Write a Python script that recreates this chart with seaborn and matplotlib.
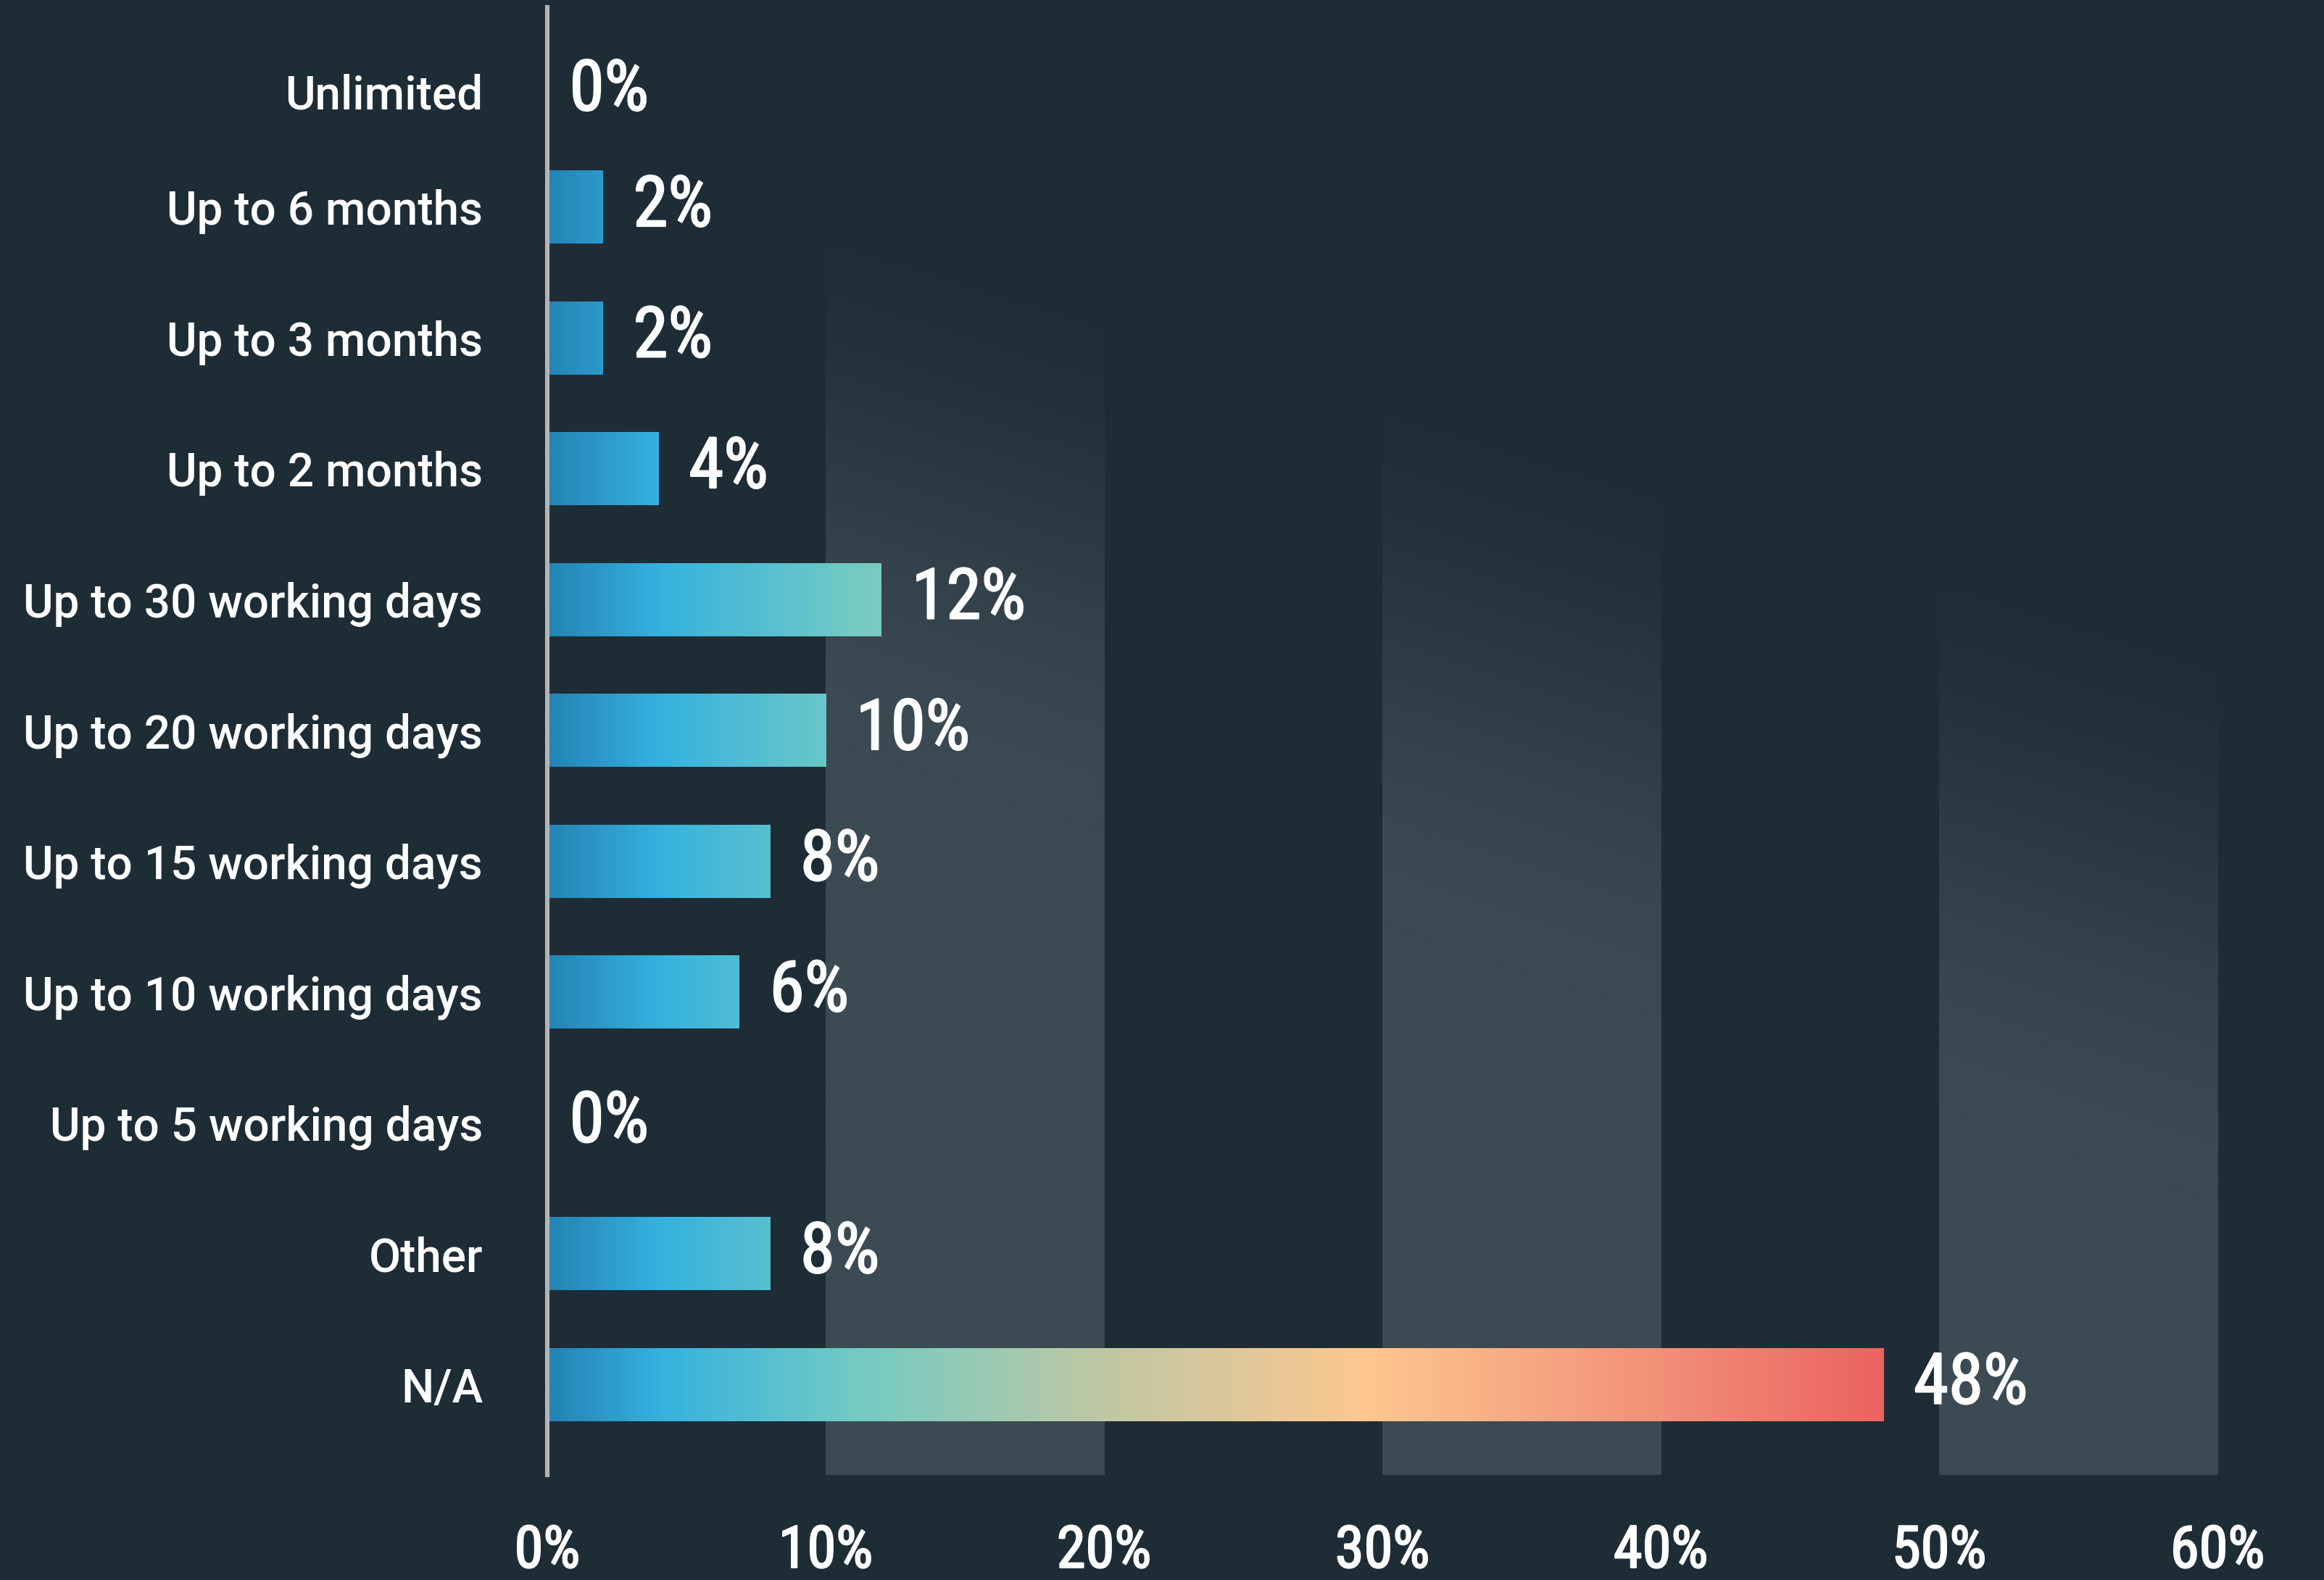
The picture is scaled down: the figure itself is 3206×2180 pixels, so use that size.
import numpy as np
import pandas as pd
import matplotlib
matplotlib.use('Agg')
import matplotlib.pyplot as plt
import matplotlib.patheffects as pe
from matplotlib import font_manager
from matplotlib.colors import LinearSegmentedColormap, Normalize, to_rgba
from matplotlib.transforms import ScaledTranslation
import seaborn as sns

# data, top to bottom
categories = ['Unlimited', 'Up to 6 months', 'Up to 3 months', 'Up to 2 months',
              'Up to 30 working days', 'Up to 20 working days', 'Up to 15 working days',
              'Up to 10 working days', 'Up to 5 working days', 'Other', 'N/A']
values = [0, 2, 2, 4, 12, 10, 8, 6.9, 0, 8, 48]
value_labels = ['0%', '2%', '2%', '4%', '12%', '10%', '8%', '6%', '0%', '8%', '48%']
x_ticks = [0, 10, 20, 30, 40, 50, 60]
x_tick_labels = ['0%', '10%', '20%', '30%', '40%', '50%', '60%']
band_starts = [10, 30, 50]

BG = '#1e2c36'
BAND = '#3c4a53'

sns.set_theme(style='dark')
names = {f.name for f in font_manager.fontManager.ttflist}


def pick(cands):
    for c in cands:
        if c in names:
            return c
    return 'DejaVu Sans'


cond = pick(['Roboto Condensed', 'Liberation Sans Narrow', 'Roboto'])
wide = pick(['Roboto', 'Lato', 'DejaVu Sans'])
plt.rcParams['font.family'] = [cond, 'DejaVu Sans']

# regular weight thickened a little -> close to a medium/semibold
semi = [pe.withStroke(linewidth=0.8, foreground='white')]

df = pd.DataFrame({'category': categories, 'value': values})

fig = plt.figure(figsize=(16.03, 10.9), dpi=200, facecolor=BG)
ax = fig.add_axes([0.2355, 0.0665, 0.7187, 0.929])
ax.set_facecolor(BG)

sns.barplot(data=df, x='value', y='category', orient='h', width=0.555,
            color='#2a96c8', ax=ax, zorder=3)

# gradient along x in absolute percent
grad = LinearSegmentedColormap.from_list('grad', [
    (0.0, '#2484b5'), (4 / 48, '#36b2e0'), (11 / 48, '#72cbc3'),
    (20 / 48, '#c0c8a4'), (29.5 / 48, '#fdc78f'), (40 / 48, '#f29078'),
    (1.0, '#ec6460')])
norm = Normalize(0, 48)

for p in ax.patches:
    x, y, w, h = p.get_x(), p.get_y(), p.get_width(), p.get_height()
    p.set_alpha(0)
    if w <= 0:
        continue
    xs = np.linspace(x, x + w, 300)
    img = grad(norm(xs))[None, :, :]
    ax.imshow(img, extent=(x, x + w, y + h, y), aspect='auto', zorder=3,
              interpolation='bilinear')

ytop, ybot = -0.53, 10.69

# shaded columns fading diagonally towards the top right
ny, nx = 400, 60
band_rgb = to_rgba(BAND)[:3]
for x0 in band_starts:
    xs = np.linspace(x0, x0 + 10, nx)
    fs = np.linspace(0, 1, ny)
    X, F = np.meshgrid(xs, fs)
    f0 = (145 + (X - 15) * 5.75) / 990
    f1 = (525 + (X - 15) * 6.25) / 990
    a = np.clip((F - f0) / (f1 - f0), 0, 1)
    a = a * a * (3 - 2 * a)
    img = np.zeros((ny, nx, 4))
    img[..., :3] = band_rgb
    img[..., 3] = a
    ax.imshow(img, extent=(x0, x0 + 10, ybot, ytop), aspect='auto', zorder=1,
              interpolation='bilinear')

# first row sits a little lower in the original
first_shift = -7.4

for i, (v, lab) in enumerate(zip(values, value_labels)):
    off = 15 if v > 0 else 11
    dy = first_shift if i == 0 else 0
    ax.annotate(lab, xy=(v, i), xytext=(off, dy), textcoords='offset points',
                va='center', ha='left', color='white', fontsize=35,
                fontweight='normal', zorder=5, path_effects=semi)

ax.set_xlim(0, 60)
ax.set_ylim(ybot, ytop)
ax.set_xticks(x_ticks)
ax.set_xticklabels(x_tick_labels, fontsize=29, path_effects=semi)
ax.set_xlabel('')
ax.set_ylabel('')
ax.grid(False)
ax.tick_params(axis='x', length=0, pad=24, labelcolor='white')
ax.tick_params(axis='y', length=0, pad=32, labelcolor='white')
ylabs = ax.get_yticklabels()
for t in ylabs:
    t.set_family([wide, 'DejaVu Sans'])
    t.set_fontsize(23)
    t.set_fontweight('medium')
ylabs[0].set_transform(ylabs[0].get_transform() +
                       ScaledTranslation(0, first_shift / 72, fig.dpi_scale_trans))
for s in ['top', 'right', 'bottom']:
    ax.spines[s].set_visible(False)
ax.spines['left'].set_color('#b4b4b4')
ax.spines['left'].set_linewidth(2.2)
ax.spines['left'].set_zorder(6)

fig.savefig('out.png', dpi=200, facecolor=BG)
